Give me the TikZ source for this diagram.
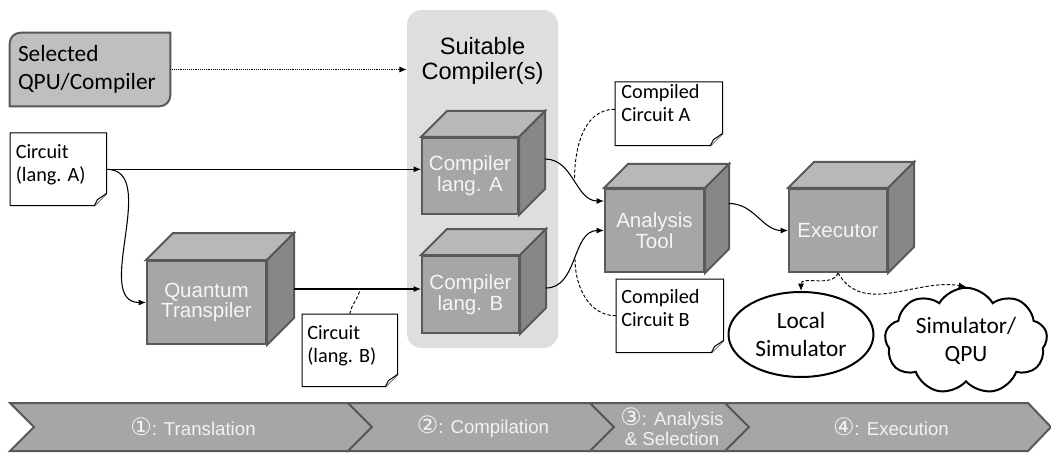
\documentclass[tikz,border=0pt]{standalone}
\usepackage{fontspec}
\setmainfont{Carlito}
\newfontfamily\arialfont{Liberation Sans}
\newfontfamily\dejavu{DejaVu Sans}
\usetikzlibrary{shapes.geometric,shapes.symbols,arrows.meta,calc}
\definecolor{edgegray}{HTML}{595959}
\definecolor{cubefront}{HTML}{A6A6A6}
\definecolor{cubetop}{HTML}{B8B8B8}
\definecolor{cubeside}{HTML}{878787}
\definecolor{selfill}{HTML}{BFBFBF}
\definecolor{bggray}{HTML}{DEDEDE}
\definecolor{chevfill}{HTML}{A6A6A6}

% name, left x, top y (front face), width, height, depth, text
\newcommand\qcube[7]{%
  \node[cubeface, anchor=north west, minimum width={#4*0.75pt}, minimum height={#5*0.75pt}] (#1) at (#2,#3) {#7};
  \draw[cubeedge, fill=cubetop] (#1.north west) -- ($(#1.north west)+(#6,-#6)$) -- ($(#1.north east)+(#6,-#6)$) -- (#1.north east) -- cycle;
  \draw[cubeedge, fill=cubeside] (#1.north east) -- ($(#1.north east)+(#6,-#6)$) -- ($(#1.south east)+(#6,-#6)$) -- (#1.south east) -- cycle;
}
% name, left x, top y, width, height
\newcommand\qnote[5]{%
  \node[notebox, anchor=north west, minimum width={#4*0.75pt}, minimum height={#5*0.75pt}] (#1) at (#2,#3) {};
  \draw[noteline, fill=white] (#1.north west) -- (#1.north east) -- ($(#1.south east)+(0,-12)$) -- ($(#1.south east)+(-12,0)$) -- (#1.south west) -- cycle;
  \draw[noteline, fill=white] ($(#1.south east)+(0,-12)$) -- ($(#1.south east)+(-9,-6)$) -- ($(#1.south east)+(-12,0)$);
}
\newcommand\circnum[1]{{\dejavu\fontsize{18}{15}\selectfont #1}}

\begin{document}
\begin{tikzpicture}[x=0.75pt,y=-0.75pt,
  conn/.style={line width=0.8pt, draw=black},
  arr/.style={-{Latex[length=5.5pt,width=4.5pt]}},
  dconn/.style={line width=0.7pt, dash pattern=on 2.5pt off 1.5pt},
  dotconn/.style={line width=0.7pt, dash pattern=on 0.7pt off 0.7pt},
  noteline/.style={draw=black, line width=0.75pt},
  notebox/.style={draw=none, inner sep=0pt},
  notetext/.style={font=\fontsize{15.2}{17.4}\selectfont, align=left, inner sep=0pt},
  cubeface/.style={draw=edgegray, line width=1.5pt, fill=cubefront, text=white!96!black, font=\arialfont\fontsize{15.4}{15.6}\selectfont, align=center, inner sep=0pt},
  cubeedge/.style={draw=edgegray, line width=1.5pt},
  chev/.style={draw=edgegray, line width=1.5pt, fill=chevfill},
  chevtext/.style={text=white!95!black, font=\arialfont\fontsize{14}{15}\selectfont, align=center, inner sep=0pt},
  bigtext/.style={font=\fontsize{17.5}{21}\selectfont, align=center, inner sep=0pt},
  ]
\useasboundingbox (0,0) rectangle (1051,453);

% background of suitable compilers
\node[fill=bggray, draw=none, rounded corners=11pt, minimum width={151*0.75pt}, minimum height={338*0.75pt}, inner sep=0pt] (bg) at (482.5,179) {};
\node[font=\arialfont\fontsize{17.7}{18.8}\selectfont, align=center, inner sep=0pt] (title) at (482.5,61) {Suitable\\Compiler(s)};

% selected QPU / compiler
\node[minimum width=120pt, minimum height=54.75pt, inner sep=0pt] (sel) at (90,69.5) {};
\fill[selfill] (sel.south west) [rounded corners=8pt] -- (sel.north west) [sharp corners] -- (sel.north east) [rounded corners=8pt] -- (sel.south east) [sharp corners] -- cycle;
\draw[edgegray, line width=1.5pt] (sel.south west) [rounded corners=8pt] -- (sel.north west) [sharp corners] -- (sel.north east) [rounded corners=8pt] -- (sel.south east) [sharp corners] -- cycle;
\node[text width=108pt, inner xsep=6pt, inner ysep=0pt, align=left, font=\fontsize{17.5}{21}\selectfont] (seltext) at (sel.center) {Selected\\QPU/Compiler};

% cubes
\qcube{cA}{421}{137}{96}{76}{26}{Compiler\\lang. A}
\qcube{cB}{421}{255}{97}{77}{26}{Compiler\\lang. B}
\qcube{T}{146}{260}{119}{83}{27}{Quantum\\Transpiler}
\qcube{an}{604}{188}{99}{83}{24}{Analysis\\Tool}
\qcube{ex}{788}{188}{98}{83}{26}{Executor}

% notes
\qnote{nCA}{10}{133}{96}{72}
\node[notetext, anchor=north west] (tCA) at ($(nCA.north west)+(5.5,11.5)$) {Circuit\\(lang. A)};
\qnote{nCB}{302}{314}{95}{72}
\node[notetext, anchor=north west] (tCB) at ($(nCB.north west)+(5,11.5)$) {Circuit\\(lang. B)};
\qnote{nKA}{615}{82}{107}{63}
\node[notetext, anchor=north west] (tKA) at ($(nKA.north west)+(6,2)$) {Compiled\\Circuit A};
\qnote{nKB}{616}{279}{107}{73}
\node[notetext, anchor=north west] (tKB) at ($(nKB.north west)+(5,10)$) {Compiled\\Circuit B};

% targets
\node[ellipse, draw, line width=1.5pt, minimum width=108.75pt, minimum height=63.75pt, inner sep=0pt, bigtext] (local) at (801,334.5) {Local\\Simulator};
\node[cloud, draw, line width=1.5pt, cloud puffs=9, cloud puff arc=120, aspect=1.7, minimum width=122pt, minimum height=72pt, inner sep=0pt, bigtext] (cloud) at (966,341) {Simulator/\\QPU};

% connectors
\draw[dotconn, arr] (sel.east) -- (sel.east -| bg.west);
\draw[conn, arr] (nCA.east) -- (nCA.east -| cA.west);
\draw[conn, arr] (nCA.east) to[out=0,in=180] (T.west);
\coordinate (tB) at ($(T.east)+(27,-13.5)$);
\draw[conn, arr] (tB) -- coordinate[pos=0.52] (mT) (tB -| cB.west);
\draw[dconn] (nCB.north) to[out=80,in=-100] (mT);
\draw[conn, arr] ($(cA.east)+(26,-17)$) to[out=0,in=180] coordinate[pos=0.5] (mA) ($(an.west)+(0,-29.5)$);
\draw[conn, arr] ($(cB.east)+(26,-6.5)$) to[out=0,in=180] coordinate[pos=0.5] (mB) (an.west);
\draw[dconn] ($(nKA.west)+(0,-4.5)$) to[out=180,in=90] (mA);
\draw[dconn] (nKB.west) to[out=180,in=-90] (mB);
\draw[conn, arr] ($(an.east)+(24,-27)$) to[out=0,in=180] (ex.west);
\draw[dconn, arr] (ex.south) to[out=-110,in=90] (local.north);
\draw[dconn, arr] (ex.south) to[out=-60,in=170] (cloud.north);

% phases
\draw[chev] (10,403) -- (348,403) -- (372,427) -- (348,451) -- (10,451) -- (34,427) -- cycle;
\draw[chev] (348,403) -- (590,403) -- (614,427) -- (590,451) -- (348,451) -- (372,427) -- cycle;
\draw[chev] (590,403) -- (725,403) -- (749,427) -- (725,451) -- (590,451) -- (614,427) -- cycle;
\draw[chev] (725,403) -- (1028,403) -- (1051,427) -- (1028,451) -- (725,451) -- (749,427) -- cycle;
\node[chevtext] (p1) at (193,427) {\circnum{①}: Translation};
\node[chevtext] (p2) at (483,427) {\circnum{②}: Compilation};
\node[chevtext] (p3) at (672,427) {\circnum{③}: Analysis\\\& Selection};
\node[chevtext] (p4) at (891,427) {\circnum{④}: Execution};
\end{tikzpicture}
\end{document}
